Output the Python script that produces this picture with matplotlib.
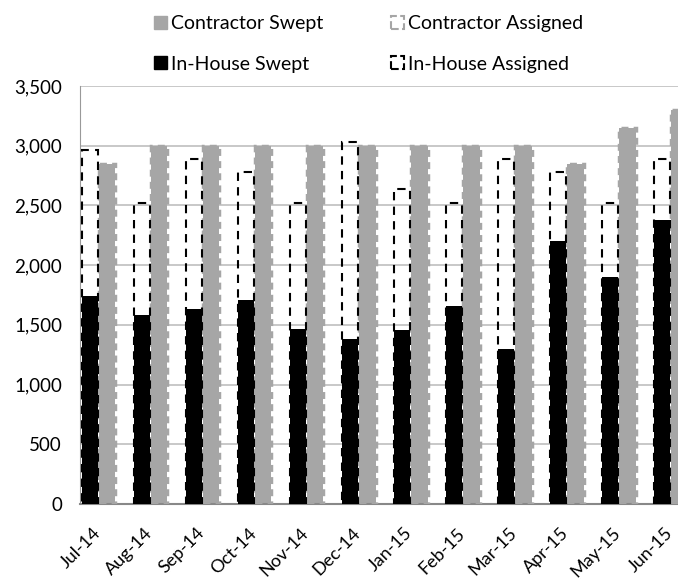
import numpy as np
import matplotlib.pyplot as plt
from matplotlib.patches import Patch

months = ["Jul-14", "Aug-14", "Sep-14", "Oct-14", "Nov-14", "Dec-14",
          "Jan-15", "Feb-15", "Mar-15", "Apr-15", "May-15", "Jun-15"]
inhouse_swept = [1740, 1580, 1635, 1710, 1465, 1385, 1460, 1655, 1295, 2205, 1900, 2375]
inhouse_assigned = [2960, 2520, 2885, 2780, 2520, 3035, 2640, 2520, 2885, 2780, 2520, 2885]
contractor_swept = [2850, 3000, 3000, 3000, 3000, 3000, 3000, 3000, 3000, 2850, 3150, 3300]
contractor_assigned = [2850, 3000, 3000, 3000, 3000, 3000, 3000, 3000, 3000, 2850, 3150, 3300]

plt.rcParams["font.family"] = ["Lato", "DejaVu Sans"]

gray = "#A6A6A6"
fig = plt.figure(figsize=(6.78, 5.83), dpi=100)
ax = fig.add_axes([0.118, 0.1355, 0.882, 0.717])

x = np.arange(len(months))
w = 0.31
off = 0.17

# contractor
ax.bar(x + off, contractor_swept, width=w, color=gray, zorder=2)
ax.bar(x + off, contractor_assigned, width=w, facecolor="none", edgecolor=gray,
       linestyle=(0, (2, 1.5)), linewidth=2.5, zorder=3)
# in-house
ax.bar(x - off, inhouse_assigned, width=w, facecolor="none", edgecolor="black",
       linestyle=(0, (4, 3)), linewidth=1.5, zorder=3)
ax.bar(x - off, inhouse_swept, width=w, color="black", zorder=4)

ax.set_xlim(-0.356, 11.14)
ax.set_ylim(0, 3500)
ax.set_yticks(np.arange(0, 3501, 500))
ax.set_yticklabels(["{:,}".format(v) for v in range(0, 3501, 500)], fontsize=13.5)
ax.set_xticks(x - 0.12)
ax.set_xticklabels(months, rotation=45, ha="right", rotation_mode="anchor",
                   fontsize=13)
ax.tick_params(axis="both", length=0)
ax.tick_params(axis="x", pad=15)
ax.tick_params(axis="y", pad=13)
ax.yaxis.grid(True, color="#BFBFBF", linewidth=1.2, zorder=0)
ax.set_axisbelow(True)
for s in ["top", "right"]:
    ax.spines[s].set_visible(False)
ax.spines["left"].set_color("#999999")
ax.spines["bottom"].set_color("#888888")
ax.spines["bottom"].set_linewidth(1.5)

handles = [Patch(facecolor=gray, edgecolor=gray),
           Patch(facecolor="black", edgecolor="black"),
           Patch(facecolor="none", edgecolor=gray, linestyle="--", linewidth=1.5),
           Patch(facecolor="none", edgecolor="black", linestyle="--", linewidth=1.5)]
labels = ["Contractor Swept", "In-House Swept",
          "Contractor Assigned", "In-House Assigned"]
fig.legend(handles, labels, loc="upper left", bbox_to_anchor=(0.202, 1.004),
           ncol=2, frameon=False, fontsize=14, handlelength=0.65,
           handleheight=0.65, handletextpad=0.2, columnspacing=3.5,
           labelspacing=1.2)

fig.savefig("out.png", dpi=100)
